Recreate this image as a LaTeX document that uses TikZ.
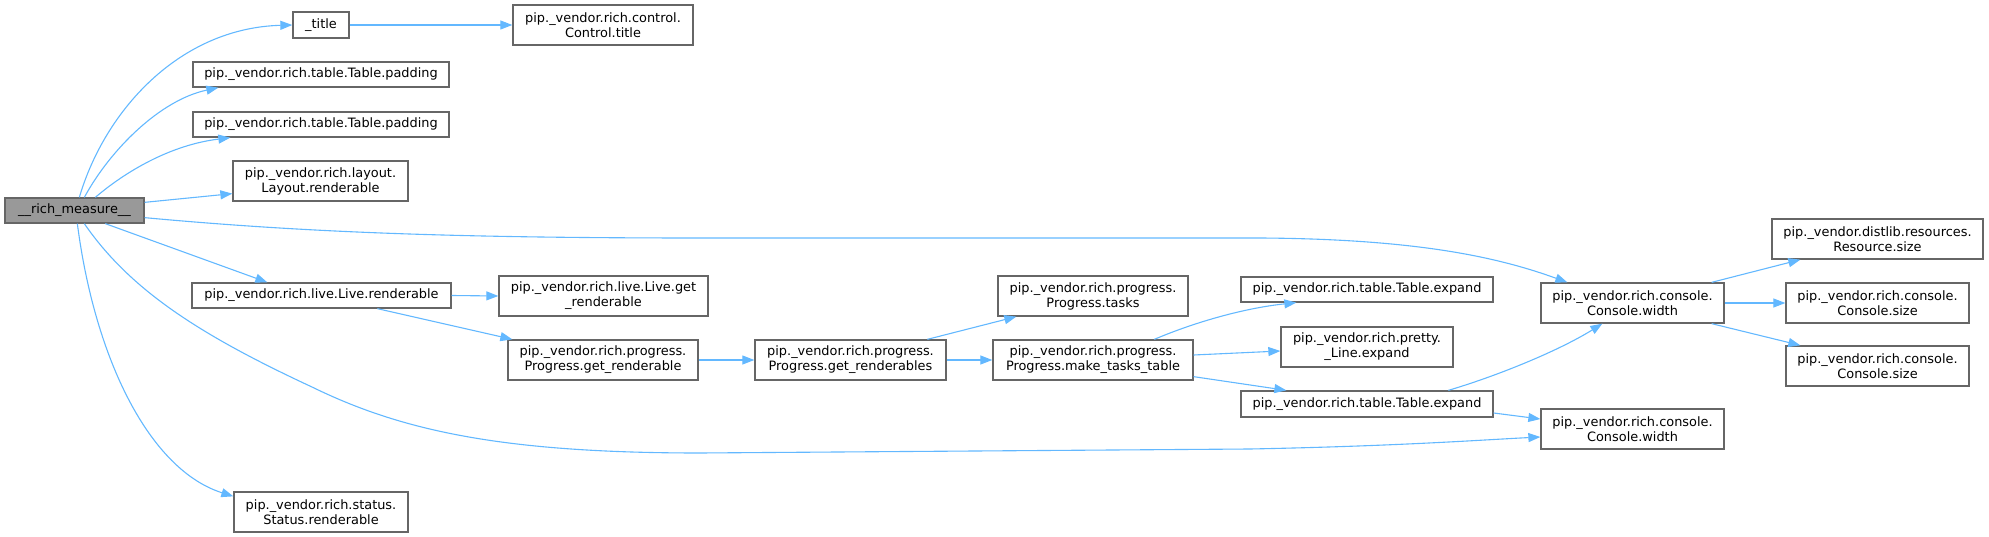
\documentclass[tikz,border=0pt]{standalone}
\usepackage{fontspec}
\setmainfont{DejaVu Sans}
\usetikzlibrary{arrows.meta,calc}
\definecolor{edgec}{HTML}{63B8FF}
\definecolor{borderc}{HTML}{666666}
\definecolor{rootc}{HTML}{999999}
\begin{document}
\begin{tikzpicture}[x=1pt,y=-1pt,
  fn/.style={draw=borderc, line width=1.3pt, fill=white, inner sep=0pt, align=center,
             font=\fontsize{12.9}{15}\selectfont},
  rootfn/.style={fn, fill=rootc},
  edge/.style={draw=edgec, line width=1.1pt, -{Triangle[length=12pt,width=9pt]}}]
\useasboundingbox (0,0) rectangle (1989,537);

\node[rootfn, minimum width=139pt, minimum height=25pt] (measure) at (74.5,210.5) {\_\_rich\_measure\_\_};
\node[fn, minimum width=56pt, minimum height=26pt] (title) at (321,25) {\_title};
\node[fn, minimum width=180pt, minimum height=40pt] (ctitle) at (603,25) {pip.\_vendor.rich.control.\\Control.title};
\node[fn, minimum width=256pt, minimum height=25pt] (pad1) at (321,74.5) {pip.\_vendor.rich.table.Table.padding};
\node[fn, minimum width=256pt, minimum height=25pt] (pad2) at (321,124.5) {pip.\_vendor.rich.table.Table.padding};
\node[fn, minimum width=175pt, minimum height=40pt] (layout) at (320.5,181) {pip.\_vendor.rich.layout.\\Layout.renderable};
\node[fn, minimum width=259pt, minimum height=25pt] (live) at (321.5,295.5) {pip.\_vendor.rich.live.Live.renderable};
\node[fn, minimum width=209pt, minimum height=40pt] (liveget) at (603.5,296) {pip.\_vendor.rich.live.Live.get\\\_renderable};
\node[fn, minimum width=190pt, minimum height=40pt] (progget) at (603,360) {pip.\_vendor.rich.progress.\\Progress.get\_renderable};
\node[fn, minimum width=174pt, minimum height=40pt] (status) at (321,512) {pip.\_vendor.rich.status.\\Status.renderable};
\node[fn, minimum width=191pt, minimum height=40pt] (getrs) at (850.5,360) {pip.\_vendor.rich.progress.\\Progress.get\_renderables};
\node[fn, minimum width=190pt, minimum height=40pt] (tasks) at (1093,296) {pip.\_vendor.rich.progress.\\Progress.tasks};
\node[fn, minimum width=200pt, minimum height=40pt] (mtt) at (1093,360) {pip.\_vendor.rich.progress.\\Progress.make\_tasks\_table};
\node[fn, minimum width=252pt, minimum height=25pt] (texp1) at (1367,289.5) {pip.\_vendor.rich.table.Table.expand};
\node[fn, minimum width=172pt, minimum height=40pt] (lexp) at (1367,347) {pip.\_vendor.rich.pretty.\\\_Line.expand};
\node[fn, minimum width=252pt, minimum height=26pt] (texp2) at (1367,404) {pip.\_vendor.rich.table.Table.expand};
\node[fn, minimum width=183pt, minimum height=40pt] (cw1) at (1632.5,303) {pip.\_vendor.rich.console.\\Console.width};
\node[fn, minimum width=183pt, minimum height=40pt] (cw2) at (1632.5,429) {pip.\_vendor.rich.console.\\Console.width};
\node[fn, minimum width=211pt, minimum height=40pt] (rsize) at (1877.5,239) {pip.\_vendor.distlib.resources.\\Resource.size};
\node[fn, minimum width=183pt, minimum height=40pt] (csize1) at (1877.5,303) {pip.\_vendor.rich.console.\\Console.size};
\node[fn, minimum width=183pt, minimum height=40pt] (csize2) at (1877.5,366) {pip.\_vendor.rich.console.\\Console.size};

% edges from root
\draw[edge] ($(measure.north west)+(75,0)$) .. controls (105,110) and (180,28) .. (title.west);
\draw[edge] ($(measure.north west)+(80,0)$) .. controls (110,150) and (160,100) .. ($(pad1.south west)+(26,0)$);
\draw[edge] ($(measure.north west)+(91,0)$) .. controls (125,172) and (170,145) .. ($(pad2.south west)+(38,0)$);
\draw[edge] ($(measure.north east)+(0,5)$) -- ($(layout.south west)+(0,-8)$);
\draw[edge] ($(measure.south east)+(0,-6)$) .. controls (300,232) and (450,238) .. (700,238)
   -- (1260,238) .. controls (1420,239) and (1500,258) .. ($(cw1.north west)+(27,0)$);
\draw[edge] ($(measure.south west)+(101,0)$) -- ($(live.north west)+(76,0)$);
\draw[edge] ($(measure.south west)+(80,0)$) .. controls (130,290) and (200,335) .. (312,387)
   .. controls (400,430) and (500,453) .. (700,453) -- (1250,449)
   .. controls (1400,446) and (1480,440) .. ($(cw2.west)+(0,8)$);
\draw[edge] ($(measure.south west)+(73,0)$) .. controls (95,360) and (150,470) .. ($(status.north west)+(0,5)$);

% other edges
\draw[edge] (title.east) -- (ctitle.west);
\draw[edge] (live.east) -- (liveget.west);
\draw[edge] ($(live.south west)+(186,0)$) -- ($(progget.north west)+(5,0)$);
\draw[edge] (progget.east) -- (getrs.west);
\draw[edge] ($(getrs.north west)+(173,0)$) -- ($(tasks.south west)+(19,0)$);
\draw[edge] (getrs.east) -- (mtt.west);
\draw[edge] ($(mtt.north west)+(162,0)$) .. controls (1195,322) and (1245,308) .. ($(texp1.south west)+(56,0)$);
\draw[edge] ($(mtt.east)+(0,-5)$) -- ($(lexp.west)+(0,4)$);
\draw[edge] ($(mtt.south east)+(0,-4)$) -- ($(texp2.north west)+(46,0)$);
\draw[edge] ($(texp2.north west)+(208,0)$) .. controls (1500,375) and (1560,350) .. ($(cw1.south west)+(62,0)$);
\draw[edge] ($(texp2.east)+(0,9)$) -- ($(cw2.west)+(0,-10)$);
\draw[edge] ($(cw1.north east)+(-13,0)$) -- ($(rsize.south west)+(29,0)$);
\draw[edge] (cw1.east) -- (csize1.west);
\draw[edge] ($(cw1.south east)+(-13,0)$) -- ($(csize2.north west)+(15,0)$);
\end{tikzpicture}
\end{document}
